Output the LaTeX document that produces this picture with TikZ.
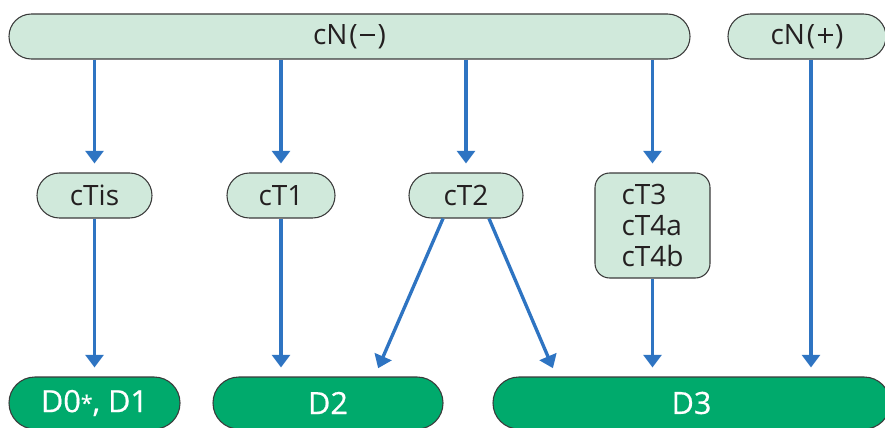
\documentclass[tikz,border=0pt]{standalone}
\usepackage{fontspec}
\setmainfont{Open Sans}
\newfontfamily\medfont[FakeBold=0.5]{Open Sans}
\usetikzlibrary{calc,arrows.meta}
\definecolor{lightg}{HTML}{D0E9DB}
\definecolor{darkg}{HTML}{00AA6C}
\definecolor{arrowblue}{HTML}{2E74C2}
\definecolor{txt}{HTML}{231F20}
\definecolor{edge}{HTML}{3A3A3A}
\newcommand{\mns}{\kern0.08em\rule[0.3em]{0.55em}{0.075em}\kern0.08em}
\newcommand{\pls}{\kern0.08em\rlap{\rule[0.3em]{0.55em}{0.075em}}\kern0.2375em\rule[0.0375em]{0.075em}{0.55em}\kern0.2375em\kern0.08em}
\begin{document}
\begin{tikzpicture}[x=0.75pt,y=-0.75pt,
  lbox/.style={draw=edge,line width=0.8pt,fill=lightg,text=txt,inner sep=0pt,
    minimum height=33.75pt,rounded corners=16.8pt,font=\fontsize{21}{24}\selectfont},
  dbox/.style={draw=edge,line width=0.8pt,fill=darkg,text=white,inner sep=0pt,
    minimum height=39pt,rounded corners=19.4pt,font=\medfont\fontsize{23}{28}\selectfont},
  arr/.style={draw=arrowblue,line width=2.5pt,-{Triangle[width=13.5pt,length=9.5pt]},shorten >=6.75pt}]
\useasboundingbox (0,0) rectangle (885,428);
\clip (0,0) rectangle (885,428);
% top row
\node[lbox,minimum width=510.75pt] (top) at (349.5,36.5) {cN\kern1.5pt(\mns)};
\node[lbox,minimum width=118.5pt] (cNp) at (807,36.5) {cN\kern1.5pt(\pls)};
% middle row
\node[lbox,minimum width=86.25pt] (cTis) at (94.5,195.5) {cTis};
\node[lbox,minimum width=81pt] (cT1) at (281,195.5) {cT1};
\node[lbox,minimum width=85.5pt] (cT2) at (466,195.5) {cT2};
\node[lbox,minimum width=86.25pt,minimum height=78.75pt,rounded corners=11pt,
  align=left,font=\fontsize{21}{23}\selectfont] (cT3) at (652.5,225.5) {cT3\\cT4a\\cT4b};
% bottom row
\node[dbox,minimum width=128.25pt] (D01) at (94.5,403) {D0{\fontsize{16}{16}\selectfont\raisebox{1pt}{*}}, D1};
\node[dbox,minimum width=172.5pt] (D2) at (328,403) {D2};
\node[dbox,minimum width=297.75pt] (D3) at (691.5,403) {D3};
% arrows from top bar
\draw[arr] (cTis.north |- top.south) -- (cTis.north);
\draw[arr] (cT1.north |- top.south) -- (cT1.north);
\draw[arr] (cT2.north |- top.south) -- (cT2.north);
\draw[arr] (cT3.north |- top.south) -- (cT3.north);
% arrows to bottom
\draw[arr] (cTis.south) -- (cTis.south |- D01.north);
\draw[arr] (cT1.south) -- (cT1.south |- D2.north);
\draw[arr] ($(cT2.south)+(-23,0)$) -- ($(D2.north east)+(-69,0)$);
\draw[arr] ($(cT2.south)+(23,0)$) -- ($(D3.north west)+(64,0)$);
\draw[arr] (cT3.south) -- (cT3.south |- D3.north);
\draw[arr] ($(cNp.south)+(4,0)$) coordinate (p) -- (p |- D3.north);
\end{tikzpicture}
\end{document}
